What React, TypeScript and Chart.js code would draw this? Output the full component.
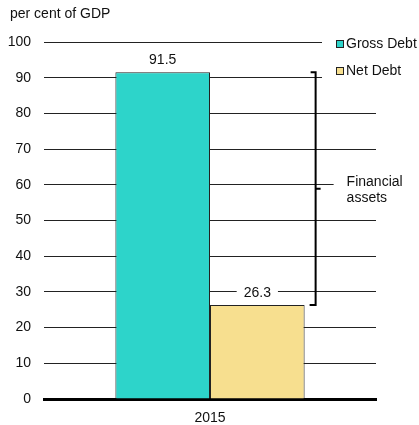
import React, { useEffect, useRef } from "react";
import { Chart, registerables } from "chart.js";

Chart.register(...registerables);

const categories = ["2015"];
const seriesNames = ["Gross Debt", "Net Debt"];
const grossDebt = [91.5];
const netDebt = [26.3];
const seriesColors = ["#2DD4CA", "#F7DF8F"];
const yMin = 0;
const yMax = 100;
const yStep = 10;
const unitTitle = "per cent of GDP";
const bracketLabel = ["Financial", "assets"];

const FONT = '"Liberation Sans", Arial, sans-serif';
const TEXT = "#111";

const overlayPlugin = {
  id: "overlay",
  afterDatasetsDraw(chart: any) {
    const ctx = chart.ctx;
    const area = chart.chartArea;
    const W = chart.width;
    const g = chart.getDatasetMeta(0).data[0];
    const n = chart.getDatasetMeta(1).data[0];
    ctx.save();
    ctx.font = `14px ${FONT}`;
    ctx.fillStyle = TEXT;

    // data labels with white background
    ctx.textAlign = "center";
    ctx.textBaseline = "middle";
    chart.data.datasets.forEach((ds: any, i: number) => {
      const el = chart.getDatasetMeta(i).data[0];
      const label = Number(ds.data[0]).toFixed(1);
      const w = ctx.measureText(label).width;
      const tx = el.x;
      const ty = el.y - 12;
      ctx.fillStyle = "#fff";
      ctx.fillRect(tx - w / 2 - 7, ty - 8, w + 14, 16);
      ctx.fillStyle = TEXT;
      ctx.fillText(label, tx, ty);
    });

    // bracket between gross and net
    const bx = n.x + n.width / 2 + 11;
    const top = g.y;
    const bot = n.y;
    const mid = (top + bot) / 2;
    ctx.strokeStyle = "#000";
    ctx.lineWidth = 2;
    ctx.beginPath();
    ctx.moveTo(bx - 5, top);
    ctx.lineTo(bx, top);
    ctx.lineTo(bx, bot);
    ctx.lineTo(bx - 6, bot);
    ctx.moveTo(bx, mid);
    ctx.lineTo(bx + 5, mid);
    ctx.stroke();

    // financial assets label
    ctx.fillStyle = "#fff";
    ctx.fillRect(bx + 18, mid - 18, W - (bx + 18), 36);
    ctx.fillStyle = TEXT;
    ctx.textAlign = "left";
    ctx.fillText(bracketLabel[0], bx + 31, mid - 7);
    ctx.fillText(bracketLabel[1], bx + 31, mid + 9);

    // legend
    const lx = area.right - 40;
    const ly0 = area.top + 2;
    const rowH = 27;
    ctx.fillStyle = "#fff";
    ctx.fillRect(lx - 14, area.top - 12, W - (lx - 14), rowH + 24 + 10);
    chart.data.datasets.forEach((ds: any, i: number) => {
      const cy = ly0 + i * rowH;
      ctx.fillStyle = ds.backgroundColor;
      ctx.fillRect(lx, cy - 4, 8, 8);
      ctx.strokeStyle = "#222";
      ctx.lineWidth = 1;
      ctx.strokeRect(lx + 0.5, cy - 3.5, 7, 7);
      ctx.fillStyle = TEXT;
      ctx.textAlign = "left";
      ctx.textBaseline = "middle";
      ctx.fillText(ds.label, lx + 10, cy);
    });

    // unit title
    ctx.textAlign = "left";
    ctx.textBaseline = "middle";
    ctx.fillStyle = TEXT;
    ctx.fillText(unitTitle, 10, 14);
    ctx.restore();
  },
};

export default function App() {
  const ref = useRef<HTMLCanvasElement>(null);
  useEffect(() => {
    if (!ref.current) return;
    const chart = new Chart(ref.current, {
      type: "bar",
      data: {
        labels: categories,
        datasets: [
          {
            label: seriesNames[0],
            data: grossDebt,
            backgroundColor: seriesColors[0],
            borderColor: "#222",
            borderWidth: 1,
          },
          {
            label: seriesNames[1],
            data: netDebt,
            backgroundColor: seriesColors[1],
            borderColor: "#222",
            borderWidth: 1,
          },
        ],
      },
      options: {
        responsive: false,
        animation: false,
        layout: { padding: { left: 0, top: 42, right: 43, bottom: 0 } },
        datasets: {
          bar: { categoryPercentage: 0.57, barPercentage: 1.0 },
        },
        plugins: {
          legend: { display: false },
          tooltip: { enabled: false },
          title: { display: false },
        },
        scales: {
          x: {
            grid: { display: false },
            border: { display: true, color: "#000", width: 3 },
            ticks: {
              color: TEXT,
              font: { family: FONT, size: 14 },
              padding: 3,
            },
            afterFit: (s: any) => {
              s.height = 26;
            },
          },
          y: {
            min: yMin,
            max: yMax,
            grid: { color: "#222", lineWidth: 1, drawTicks: false },
            border: { display: false },
            ticks: {
              stepSize: yStep,
              color: TEXT,
              font: { family: FONT, size: 14 },
              padding: 13,
            },
            afterFit: (s: any) => {
              s.width = 44;
            },
          },
        },
      },
      plugins: [overlayPlugin],
    });
    return () => chart.destroy();
  }, []);
  return (
    <div style={{ position: "absolute", left: 0, top: 0, width: 419, height: 425 }}>
      <canvas ref={ref} width={419} height={425} />
    </div>
  );
}
